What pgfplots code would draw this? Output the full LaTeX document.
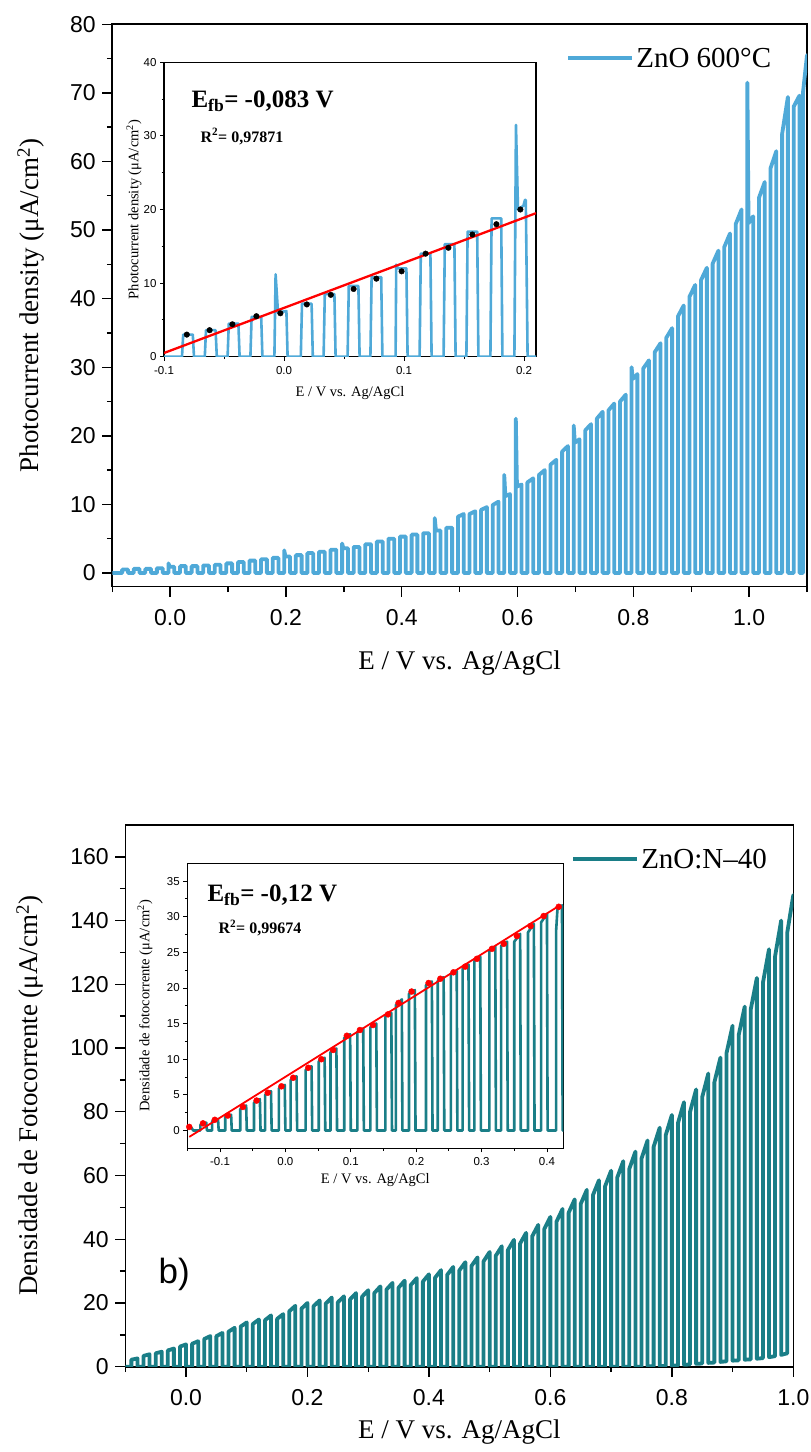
\documentclass[border=0pt]{standalone}
\usepackage{fontspec}
\setmainfont{Liberation Serif}
\newfontfamily\arial{Liberation Sans}
\usepackage{pgfplots}
\pgfplotsset{compat=1.18}

\definecolor{zblue}{HTML}{4FA9D8}
\definecolor{zteal}{HTML}{1A7E87}
\newcommand\fs[1]{\fontsize{#1}{#1}\selectfont}

\pgfplotsset{
  mainax/.style={
    scale only axis, anchor=south west,
    axis line style={line width=1.6pt},
    tick style={black, line width=1.4pt},
    major tick length=10pt, minor tick length=5.5pt,
    tick align=outside, xtick pos=left, ytick pos=left,
    tick label style={font=\arial\fs{23}},
    /pgf/number format/assume math mode=true,
    yticklabel style={xshift=-3pt},
    xticklabel style={yshift=-9pt, /pgf/number format/.cd, fixed, fixed zerofill, precision=1},
    label style={font=\fs{27}},
    legend style={draw=none, fill=none, font=\fs{29}, anchor=west, inner sep=0pt},
    legend image code/.code={\draw[#1, line width=4.2pt] (0pt,0pt) -- (64pt,0pt);},
    axis background/.style={fill=white},
  },
  inax/.style={
    scale only axis, anchor=south west,
    axis line style={line width=1.1pt},
    tick style={black, line width=0.9pt},
    major tick length=4pt, minor tick length=2.5pt,
    tick align=outside, xtick pos=left, ytick pos=left,
    tick label style={font=\arial\fs{11.5}},
    /pgf/number format/assume math mode=true,
    xticklabel style={yshift=-2pt, /pgf/number format/.cd, fixed, fixed zerofill, precision=1},
    label style={font=\fs{14.5}},
    axis background/.style={fill=white},
  },
}

\begin{document}
\begin{tikzpicture}
\path[use as bounding box] (0,0) rectangle (811pt,1452pt);

% ---------- top: ZnO 600 C ----------
\begin{axis}[mainax,
  at={(112.3pt,865.3pt)}, width=694.7pt, height=562.4pt,
  xmin=-0.1, xmax=1.1, ymin=-2, ymax=80,
  xtick={0,0.2,0.4,0.6,0.8,1.0}, minor xtick={-0.1,0.1,0.3,0.5,0.7,0.9,1.1},
  ytick={0,10,20,30,40,50,60,70,80}, minor ytick={5,15,25,35,45,55,65,75},
  xlabel={E / V vs. Ag/AgCl},
  ylabel={Photocurrent density (μA/cm\textsuperscript{2})},
  xlabel style={at={(axis description cs:0.5,-0.1357)}, anchor=center},
  ylabel style={at={(axis description cs:-0.117,0.5)}, anchor=center},
  legend style={at={(0.653,0.9395)}},
]
\addplot[zblue, line width=3.8pt, line join=round] coordinates {
(-0.1,0)
(-0.083,0)(-0.083,0.5)(-0.073,0.5)(-0.073,0)
(-0.063,0)(-0.063,0.6)(-0.053,0.6)(-0.053,0)
(-0.043,0)(-0.043,0.6)(-0.033,0.6)(-0.033,0)
(-0.023,0)(-0.023,0.7)(-0.013,0.7)(-0.013,0)
(-0.003,0)(-0.003,1.4)(-0.001,0.9)(0.007,0.9)(0.007,0)
(0.017,0)(0.017,1.0)(0.027,1.0)(0.027,0)
(0.037,0)(0.037,1.0)(0.047,1.0)(0.047,0)
(0.057,0)(0.057,1.1)(0.067,1.1)(0.067,0)
(0.077,0)(0.077,1.2)(0.087,1.2)(0.087,0)
(0.097,0)(0.097,1.4)(0.107,1.4)(0.107,0)
(0.117,0)(0.117,1.6)(0.127,1.6)(0.127,0)
(0.137,0)(0.137,1.8)(0.147,1.8)(0.147,0)
(0.157,0)(0.157,2.0)(0.167,2.0)(0.167,0)
(0.177,0)(0.177,2.2)(0.187,2.2)(0.187,0)
(0.197,0)(0.197,3.3)(0.199,2.4)(0.207,2.4)(0.207,0)
(0.217,0)(0.217,2.6)(0.227,2.6)(0.227,0)
(0.237,0)(0.237,2.9)(0.247,2.9)(0.247,0)
(0.257,0)(0.257,3.1)(0.267,3.1)(0.267,0)
(0.277,0)(0.277,3.4)(0.287,3.4)(0.287,0)
(0.297,0)(0.297,4.3)(0.299,3.6)(0.307,3.6)(0.307,0)
(0.317,0)(0.317,3.8)(0.327,3.8)(0.327,0)
(0.337,0)(0.337,4.2)(0.347,4.2)(0.347,0)
(0.357,0)(0.357,4.6)(0.367,4.6)(0.367,0)
(0.377,0)(0.377,5.0)(0.387,5.0)(0.387,0)
(0.397,0)(0.397,5.3)(0.407,5.3)(0.407,0)
(0.417,0)(0.417,5.6)(0.427,5.6)(0.427,0)
(0.437,0)(0.437,5.8)(0.447,5.8)(0.447,0)
(0.457,0)(0.457,8.0)(0.459,6.2)(0.467,6.2)(0.467,0)
(0.477,0)(0.477,6.6)(0.487,6.6)(0.487,0)
(0.497,0)(0.497,8.2)(0.507,8.6)(0.507,0)
(0.517,0)(0.517,8.6)(0.527,9.0)(0.527,0)
(0.537,0)(0.537,9.2)(0.547,9.6)(0.547,0)
(0.557,0)(0.557,9.9)(0.567,10.4)(0.567,0)
(0.577,0)(0.577,14.3)(0.579,11.2)(0.587,11.5)(0.587,0)
(0.597,0)(0.597,22.5)(0.599,12.6)(0.607,12.9)(0.607,0)
(0.617,0)(0.617,13.2)(0.627,13.8)(0.627,0)
(0.637,0)(0.637,14.3)(0.647,15.0)(0.647,0)
(0.657,0)(0.657,15.8)(0.667,16.5)(0.667,0)
(0.677,0)(0.677,17.7)(0.687,18.5)(0.687,0)
(0.697,0)(0.697,21.5)(0.699,19.0)(0.707,19.5)(0.707,0)
(0.717,0)(0.717,20.8)(0.727,21.7)(0.727,0)
(0.737,0)(0.737,22.5)(0.747,23.5)(0.747,0)
(0.757,0)(0.757,23.7)(0.767,24.7)(0.767,0)
(0.777,0)(0.777,25.0)(0.787,26.0)(0.787,0)
(0.797,0)(0.797,30.0)(0.799,28.3)(0.807,29.0)(0.807,0)
(0.817,0)(0.817,29.8)(0.827,31.0)(0.827,0)
(0.837,0)(0.837,32.2)(0.847,33.5)(0.847,0)
(0.857,0)(0.857,34.3)(0.867,35.7)(0.867,0)
(0.877,0)(0.877,37.4)(0.887,39.0)(0.887,0)
(0.897,0)(0.897,40.3)(0.907,42.0)(0.907,0)
(0.917,0)(0.917,42.7)(0.927,44.5)(0.927,0)
(0.937,0)(0.937,45.1)(0.947,47.0)(0.947,0)
(0.957,0)(0.957,47.5)(0.967,49.5)(0.967,0)
(0.977,0)(0.977,50.9)(0.987,53.0)(0.987,0)
(0.997,0)(0.997,71.5)(0.999,51.0)(1.007,52.0)(1.007,0)
(1.017,0)(1.017,54.7)(1.027,57.0)(1.027,0)
(1.037,0)(1.037,59.0)(1.047,61.5)(1.047,0)
(1.057,0)(1.057,64.0)(1.067,69.4)(1.067,0)
(1.077,0)(1.077,68.0)(1.087,69.6)(1.087,0)
(1.093,0)(1.093,70.0)(1.100,75.5)(1.106,75.5)
};
\addlegendentry{ZnO 600°C}
\end{axis}

\begin{axis}[inax,
  at={(164pt,1095.3pt)}, width=372pt, height=294.4pt,
  xmin=-0.1, xmax=0.21, ymin=0, ymax=40,
  xtick={-0.1,0,0.1,0.2}, minor xtick={-0.05,0.05,0.15},
  ytick={0,10,20,30,40}, minor ytick={5,15,25,35},
  xlabel={E / V vs. Ag/AgCl},
  ylabel={Photocurrent density (μA/cm\textsuperscript{2})},
  xlabel style={at={(axis description cs:0.5,-0.123)}, anchor=center},
  ylabel style={at={(axis description cs:-0.0806,0.5)}, anchor=center},
]
\addplot[only marks, mark=*, mark size=2.8pt, black] coordinates {
(-0.081,3.0)(-0.062,3.6)(-0.043,4.4)(-0.023,5.5)(-0.003,5.9)(0.019,7.1)(0.039,8.4)(0.058,9.2)
(0.077,10.6)(0.098,11.6)(0.118,14.0)(0.137,14.8)(0.157,16.6)(0.177,18.0)(0.197,20.0)
};
\addplot[zblue, line width=2.6pt, line join=round] coordinates {
(-0.1,0)(-0.085,0)(-0.084,3.0)(-0.076,3.0)(-0.075,0)
(-0.066,0)(-0.065,3.6)(-0.057,3.6)(-0.056,0)
(-0.047,0)(-0.046,4.5)(-0.038,4.5)(-0.037,0)
(-0.028,0)(-0.027,5.4)(-0.019,5.4)(-0.018,0)
(-0.008,0)(-0.007,11.2)(-0.005,6.0)(0.002,6.2)(0.003,0)
(0.014,0)(0.015,7.2)(0.023,7.2)(0.024,0)
(0.033,0)(0.034,8.5)(0.042,8.5)(0.043,0)
(0.053,0)(0.054,9.6)(0.062,9.6)(0.063,0)
(0.072,0)(0.073,10.8)(0.081,10.8)(0.082,0)
(0.093,0)(0.0935,12.5)(0.095,12.0)(0.102,12.0)(0.103,0)
(0.113,0)(0.114,14.0)(0.122,14.0)(0.123,0)
(0.133,0)(0.134,15.3)(0.142,15.3)(0.143,0)
(0.152,0)(0.153,17.0)(0.161,17.0)(0.162,0)
(0.172,0)(0.173,18.8)(0.181,18.8)(0.182,0)
(0.192,0)(0.1933,31.5)(0.195,20.0)(0.1995,20.5)(0.2008,21.3)(0.2015,21.3)(0.203,0)(0.21,0)
};
\addplot[red, line width=2.3pt] coordinates {(-0.1,0.5)(0.21,19.5)};
\node[anchor=base west, font=\bfseries\fs{25}] at (rel axis cs:0.0645,0.845) {E\textsubscript{fb}= -0,083 V};
\node[anchor=base west, font=\bfseries\fs{16}] at (rel axis cs:0.0887,0.729) {R\textsuperscript{2}= 0,97871};
\end{axis}

% ---------- bottom: ZnO:N-40 ----------
\begin{axis}[mainax,
  at={(125.3pt,85.3pt)}, width=668pt, height=541.7pt,
  xmin=-0.1, xmax=1.0, ymin=0, ymax=170,
  xtick={0,0.2,0.4,0.6,0.8,1.0}, minor xtick={-0.1,0.1,0.3,0.5,0.7,0.9},
  ytick={0,20,40,60,80,100,120,140,160}, minor ytick={10,30,50,70,90,110,130,150},
  xlabel={E / V vs. Ag/AgCl},
  ylabel={Densidade de Fotocorrente (μA/cm\textsuperscript{2})},
  xlabel style={at={(axis description cs:0.5,-0.1205)}, anchor=center},
  ylabel style={at={(axis description cs:-0.1427,0.5)}, anchor=center},
  legend style={at={(0.667,0.937)}},
]
\addplot[zteal, line width=3.8pt, line join=round] coordinates {
(-0.1,0)
(-0.09,0)(-0.09,2.2)(-0.08,2.6)(-0.08,0)
(-0.07,0)(-0.07,3.4)(-0.06,3.9)(-0.06,0)
(-0.05,0)(-0.05,4.2)(-0.04,4.7)(-0.04,0)
(-0.03,0)(-0.03,5.1)(-0.02,5.7)(-0.02,0)
(-0.01,0)(-0.01,6.3)(0.0,7.0)(0.0,0)
(0.01,0)(0.01,7.2)(0.02,8.0)(0.02,0)
(0.03,0)(0.03,8.7)(0.04,9.6)(0.04,0)
(0.05,0)(0.05,9.6)(0.06,10.6)(0.06,0)
(0.07,0)(0.07,11.0)(0.08,12.2)(0.08,0)
(0.09,0)(0.09,12.6)(0.10,13.9)(0.10,0)
(0.11,0)(0.11,13.4)(0.12,14.8)(0.12,0)
(0.13,0)(0.13,14.6)(0.14,16.1)(0.14,0)
(0.15,0)(0.15,15.0)(0.16,16.5)(0.16,0)
(0.17,0)(0.17,17.4)(0.18,19.1)(0.18,0)
(0.19,0)(0.19,18.2)(0.20,20.0)(0.20,0)
(0.21,0)(0.21,19.0)(0.22,20.8)(0.22,0)
(0.23,0)(0.23,19.8)(0.24,21.7)(0.24,0)
(0.25,0)(0.25,20.2)(0.26,22.1)(0.26,0)
(0.27,0)(0.27,21.1)(0.28,23.1)(0.28,0)
(0.29,0)(0.29,22.0)(0.30,24.0)(0.30,0)
(0.31,0)(0.31,23.1)(0.32,25.2)(0.32,0)
(0.33,0)(0.33,24.2)(0.34,26.3)(0.34,0)
(0.35,0)(0.35,24.8)(0.36,27.0)(0.36,0)
(0.37,0)(0.37,25.6)(0.38,27.8)(0.38,0)
(0.39,0)(0.39,26.7)(0.40,29.0)(0.40,0)
(0.41,0)(0.41,27.9)(0.42,30.3)(0.42,0)
(0.43,0)(0.43,28.8)(0.44,31.3)(0.44,0)
(0.45,0)(0.45,30.2)(0.46,32.8)(0.46,0)
(0.47,0)(0.47,31.6)(0.48,34.3)(0.48,0)
(0.49,0)(0.49,33.1)(0.50,36.0)(0.50,0)
(0.51,0)(0.51,34.8)(0.52,37.8)(0.52,0)
(0.53,0)(0.53,36.6)(0.54,39.8)(0.54,0)
(0.55,0)(0.55,38.6)(0.56,42.0)(0.56,0)
(0.57,0)(0.57,40.9)(0.58,44.5)(0.58,0)
(0.59,0)(0.59,43.2)(0.60,47.0)(0.60,0)
(0.61,0)(0.61,45.5)(0.62,49.5)(0.62,0)
(0.63,0)(0.63,48.3)(0.64,52.5)(0.64,0)
(0.65,0)(0.65,51.1)(0.66,55.5)(0.66,0)
(0.67,0)(0.67,53.8)(0.68,58.5)(0.68,0)
(0.69,0)(0.69,56.6)(0.70,61.5)(0.70,0)
(0.71,0)(0.71,59.3)(0.72,64.5)(0.72,0)
(0.73,0)(0.73,62.1)(0.74,67.5)(0.74,0)
(0.75,0)(0.75,65.3)(0.76,71.0)(0.76,0.1)
(0.77,0.1)(0.77,69.0)(0.78,75.0)(0.78,0.2)
(0.79,0.2)(0.79,72.7)(0.80,79.0)(0.80,0.3)
(0.81,0.4)(0.81,76.4)(0.82,83.0)(0.82,0.6)
(0.83,0.7)(0.83,80.0)(0.84,87.0)(0.84,0.9)
(0.85,1.0)(0.85,84.6)(0.86,92.0)(0.86,1.2)
(0.87,1.3)(0.87,89.2)(0.88,97.0)(0.88,1.5)
(0.89,1.7)(0.89,98.4)(0.90,107.0)(0.90,1.9)
(0.91,2.0)(0.91,104.0)(0.92,113.0)(0.92,2.2)
(0.93,2.3)(0.93,112.2)(0.94,122.0)(0.94,2.5)
(0.95,2.7)(0.95,120.5)(0.96,131.0)(0.96,3.0)
(0.97,3.3)(0.97,128.8)(0.98,140.0)(0.98,3.7)
(0.99,4.2)(0.99,136.2)(1.00,148.0)(1.01,148.0)
};
\addlegendentry{ZnO:N–40}
\node[anchor=base west, font=\arial\fs{35}] at (rel axis cs:0.0445,0.1545) {b)};
\end{axis}

\begin{axis}[inax,
  at={(187.3pt,303.7pt)}, width=376pt, height=285pt,
  xmin=-0.15, xmax=0.425, ymin=-2.5, ymax=37.5,
  xtick={-0.1,0,0.1,0.2,0.3,0.4}, minor xtick={-0.15,-0.05,0.05,0.15,0.25,0.35},
  ytick={0,5,10,15,20,25,30,35}, minor ytick={2.5,7.5,12.5,17.5,22.5,27.5,32.5},
  xlabel={E / V vs. Ag/AgCl},
  ylabel={Densidade de fotocorrente (μA/cm\textsuperscript{2})},
  xlabel style={at={(axis description cs:0.5,-0.111)}, anchor=center},
  ylabel style={at={(axis description cs:-0.1125,0.5)}, anchor=center},
]
\addplot[zteal, line width=2.6pt, line join=round] coordinates {
(-0.15,0.6)(-0.146,0.5)(-0.143,0.3)(-0.141,0)
(-0.130,0)(-0.130,0.8)(-0.121,1.1)(-0.120,0)
(-0.112,0)(-0.112,1.3)(-0.103,1.6)(-0.102,0)
(-0.092,0)(-0.092,1.9)(-0.083,2.2)(-0.082,0)
(-0.069,0)(-0.069,3.0)(-0.060,3.5)(-0.059,0)
(-0.048,0)(-0.048,3.9)(-0.039,4.4)(-0.038,0)
(-0.031,0)(-0.031,5.0)(-0.022,5.5)(-0.021,0)
(-0.010,0)(-0.010,5.9)(-0.001,6.4)(0.000,0)
(0.008,0)(0.008,7.1)(0.017,7.6)(0.018,0)
(0.031,0)(0.031,8.5)(0.040,9.0)(0.041,0)
(0.051,0)(0.051,9.7)(0.060,10.2)(0.061,0)
(0.069,0)(0.069,11.0)(0.078,11.5)(0.079,0)
(0.090,0)(0.090,13.0)(0.099,13.5)(0.100,0)
(0.110,0)(0.110,13.8)(0.119,14.3)(0.120,0)
(0.130,0)(0.130,14.5)(0.139,15.0)(0.140,0)
(0.153,0)(0.153,16.0)(0.162,16.5)(0.163,0)
(0.169,0)(0.169,17.6)(0.178,18.4)(0.179,0)
(0.189,0)(0.189,19.2)(0.198,19.7)(0.199,0)
(0.215,0)(0.215,20.4)(0.224,20.9)(0.225,0)
(0.233,0)(0.233,21.0)(0.242,21.5)(0.243,0)
(0.253,0)(0.253,21.9)(0.262,22.4)(0.263,0)
(0.271,0)(0.271,22.7)(0.280,23.3)(0.281,0)
(0.289,0)(0.289,23.8)(0.298,24.4)(0.299,0)
(0.312,0)(0.312,25.2)(0.321,25.8)(0.322,0)
(0.330,0)(0.330,25.9)(0.339,26.5)(0.340,0)
(0.350,0)(0.350,26.5)(0.359,27.6)(0.360,0)
(0.371,0)(0.371,27.8)(0.380,29.0)(0.381,0)
(0.391,0)(0.391,29.2)(0.400,30.4)(0.401,0)
(0.414,0)(0.414,28.0)(0.416,31.0)(0.423,31.6)(0.424,0)(0.43,0)
};
\addplot[only marks, mark=*, mark size=3pt, red] coordinates {
(-0.147,0.5)(-0.126,1.0)(-0.108,1.5)(-0.088,2.1)(-0.065,3.3)(-0.044,4.2)(-0.027,5.3)(-0.006,6.2)
(0.012,7.4)(0.035,8.8)(0.055,10.0)(0.073,11.3)(0.094,13.3)(0.114,14.1)(0.134,14.8)(0.157,16.3)
(0.173,17.9)(0.193,19.5)(0.219,20.7)(0.237,21.3)(0.257,22.2)(0.275,23.0)(0.293,24.1)(0.316,25.5)
(0.334,26.2)(0.354,27.3)(0.375,28.7)(0.395,30.1)(0.418,31.4)
};
\addplot[red, line width=1.8pt] coordinates {(-0.147,-0.9)(0.418,31.5)};
\node[anchor=base west, font=\bfseries\fs{25}] at (rel axis cs:0.0444,0.865) {E\textsubscript{fb}= -0,12 V};
\node[anchor=base west, font=\bfseries\fs{16}] at (rel axis cs:0.0737,0.752) {R\textsuperscript{2}= 0,99674};
\end{axis}
\end{tikzpicture}
\end{document}
